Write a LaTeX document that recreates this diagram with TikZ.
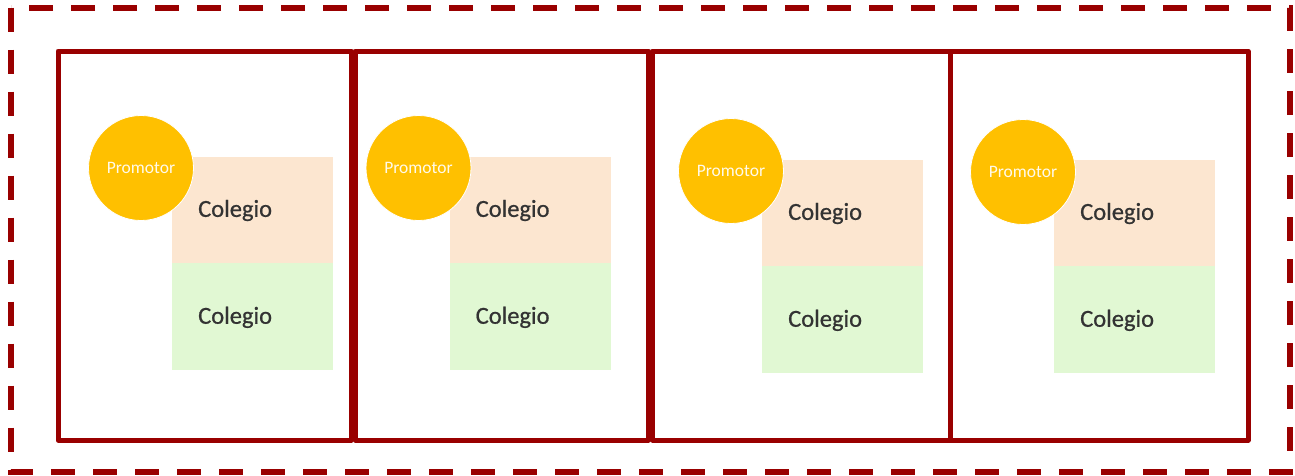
\documentclass[tikz,border=0pt]{standalone}
\usepackage{fontspec}
\setmainfont{Carlito}
\newfontfamily\colfont{Carlito}[FakeBold=0.7]
\definecolor{dred}{HTML}{990000}
\definecolor{prom}{HTML}{FFC000}
\definecolor{peach}{HTML}{FCE6D0}
\definecolor{mint}{HTML}{E1F8D3}
\definecolor{txt}{HTML}{333333}
\begin{document}
\begin{tikzpicture}[x=1pt,y=-1pt,
  panel/.style={draw=dred,line width=5pt,line join=round},
  outerbox/.style={draw=dred,line width=6pt,dash pattern=on 24pt off 18pt},
  prombox/.style={circle,fill=prom,draw=white,line width=0.8pt,minimum size=105pt,inner sep=0pt,text=white!92!prom,font=\fontsize{17.5}{19}\selectfont},
  colbox/.style={rectangle,minimum width=161pt,minimum height=106.5pt,inner sep=0pt},
  coltext/.style={anchor=west,text=txt,inner sep=0pt,font=\colfont\fontsize{24.5}{27}\selectfont}]
\useasboundingbox (0,0) rectangle (1295,475);
\draw[outerbox] (11,7.5) rectangle (1290,471.5);
% panels
\draw[panel] (58,51) rectangle (351,440);
\draw[panel] (355,51) rectangle (648.5,440);
\draw[panel] (652.5,51) rectangle (950,440);
\draw[panel] (950,51) rectangle (1248,440);
% panel contents
\foreach \i/\cx/\cy/\rx/\ry in {1/141/168/172/157,2/418.5/168/449.5/157,3/731/171/762/160,4/1023/172/1054/160}{
  \node[colbox,fill=peach,anchor=north west] (o\i) at (\rx,\ry) {};
  \node[colbox,fill=mint,anchor=north west] (g\i) at ([yshift=0.8pt]o\i.south west) {};
  \node[coltext] (ot\i) at ([xshift=26pt]o\i.west) {Colegio};
  \node[coltext] (gt\i) at ([xshift=26pt,yshift=-0.8pt]g\i.west) {Colegio};
  \node[prombox] (p\i) at (\cx,\cy) {Promotor};
}
\end{tikzpicture}
\end{document}
